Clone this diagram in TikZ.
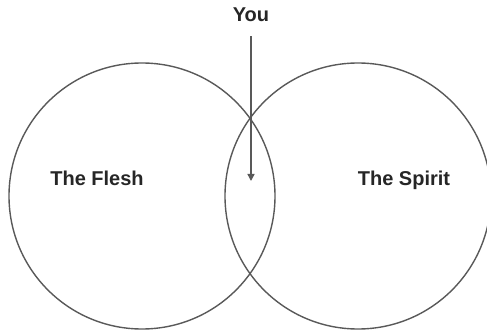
\documentclass[tikz,border=0pt]{standalone}
\usepackage{fontspec}
\setmainfont{Liberation Sans}
\usetikzlibrary{arrows.meta}
\begin{document}
\begin{tikzpicture}[x=1pt,y=-1pt,
  ring/.style={draw=black!65,line width=1.4pt,circle,minimum size=266pt,inner sep=0pt},
  lbl/.style={font=\fontsize{20}{24}\selectfont\bfseries,text=black!85,inner sep=0pt},
  pointer/.style={draw=black!65,line width=1.4pt,-{Triangle[length=7pt,width=7pt]}}]
\clip (0,0) rectangle (487,331);
\useasboundingbox (0,0) rectangle (487,331);
\node[ring] (flesh) at (142,196) {};
\node[ring] (spirit) at (358,196) {};
\node[lbl] (fleshlbl) at (97,178) {The Flesh};
\node[lbl] (spiritlbl) at (404,180) {The Spirit};
\node[lbl] (you) at (251,15) {You};
\coordinate (tip) at (251,181);
\draw[pointer,shorten <=14pt] (you.south) -- (tip);
\end{tikzpicture}
\end{document}
